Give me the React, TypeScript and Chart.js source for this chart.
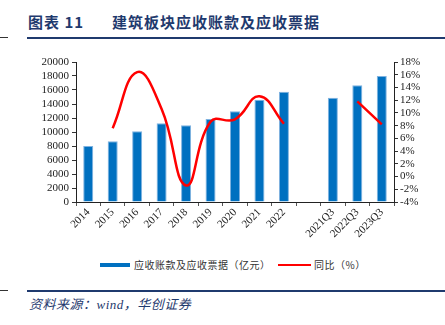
import React, { useEffect, useRef } from "react";
import { Chart, registerables } from "chart.js";

Chart.register(...registerables);

const categories = ["2014", "2015", "2016", "2017", "2018", "2019", "2020", "2021", "2022", "", "2021Q3", "2022Q3", "2023Q3"];
const receivables = [8000, 8670, 10100, 11240, 10960, 11860, 12960, 14620, 15760, null, 14900, 16670, 18000];
const yoy = [null, 7.6, 16.4, 10.6, -1.4, 8.6, 9.0, 12.6, 8.3, null, null, 11.8, 8.2];
const leftTicks = [0, 2000, 4000, 6000, 8000, 10000, 12000, 14000, 16000, 18000, 20000];
const rightTicks = [-4, -2, 0, 2, 4, 6, 8, 10, 12, 14, 16, 18];

const NAVY = "#1F3A6E";

export default function App() {
  const ref = useRef<HTMLCanvasElement>(null);
  useEffect(() => {
    const ctx = ref.current!;
    const tickFont = { family: "'Liberation Serif', 'Times New Roman', serif", size: 11 };
    const chart = new Chart(ctx, {
      data: {
        labels: categories,
        datasets: [
          {
            type: "line",
            label: "同比（%）",
            data: yoy,
            yAxisID: "y1",
            borderColor: "#FF0000",
            backgroundColor: "#FF0000",
            borderWidth: 2.5,
            pointRadius: 0,
            tension: 0.45,
            spanGaps: false,
            order: 0,
          } as any,
          {
            type: "bar",
            label: "应收账款及应收票据（亿元）",
            data: receivables,
            yAxisID: "y",
            backgroundColor: "#0070C0",
            borderColor: "#7FB2E0",
            borderWidth: { top: 1, left: 1, right: 1, bottom: 0 },
            barPercentage: 0.41,
            categoryPercentage: 1,
            order: 1,
          } as any,
        ],
      },
      options: {
        animation: false,
        responsive: false,
        maintainAspectRatio: false,
        layout: { padding: { top: 12, left: 0, right: 0, bottom: 0 } },
        plugins: { legend: { display: false }, tooltip: { enabled: false } },
        scales: {
          x: {
            offset: true,
            grid: { display: true, drawOnChartArea: false, drawTicks: true, tickLength: 4, offset: true, color: "#555" },
            border: { display: true, color: "#222", width: 1 },
            ticks: { color: "#222", font: tickFont, maxRotation: 45, minRotation: 45, autoSkip: false, padding: 0 },
            afterFit: (s: any) => { s.height = 48; },
          },
          y: {
            position: "left",
            min: 0,
            max: 20000,
            afterBuildTicks: (s: any) => { s.ticks = leftTicks.map((v) => ({ value: v })); },
            grid: { display: true, drawOnChartArea: false, drawTicks: true, tickLength: 4, color: "#333" },
            border: { display: true, color: "#222", width: 1 },
            ticks: { color: "#222", font: tickFont, padding: 3, autoSkip: false, callback: (v: any) => String(v) },
            afterFit: (s: any) => { s.width = 76; },
          },
          y1: {
            position: "right",
            min: -4,
            max: 18,
            afterBuildTicks: (s: any) => { s.ticks = rightTicks.map((v) => ({ value: v })); },
            grid: { display: true, drawOnChartArea: false, drawTicks: true, tickLength: 4, color: "#333" },
            border: { display: true, color: "#222", width: 1 },
            ticks: { color: "#222", font: tickFont, padding: 2, autoSkip: false, callback: (v: any) => v + "%" },
            afterFit: (s: any) => { s.width = 51; },
          },
        },
      },
    });
    return () => chart.destroy();
  }, []);

  const cjk = "'Noto Sans CJK SC', 'Noto Sans', sans-serif";
  return (
    <div style={{ position: "fixed", left: 0, top: 0, width: 445, height: 325, background: "#fff", overflow: "hidden" }}>
      <div style={{ position: "absolute", left: 28, top: 12, fontFamily: cjk, fontWeight: 700, fontSize: 15, color: NAVY, letterSpacing: 1, whiteSpace: "nowrap", lineHeight: "20px" }}>
        图表 11<span style={{ display: "inline-block", width: 28 }} />建筑板块应收账款及应收票据
      </div>
      <div style={{ position: "absolute", left: 0, top: 37, width: 8, height: 1, background: "#333" }} />
      <div style={{ position: "absolute", left: 27, top: 37, width: 418, height: 2, background: NAVY }} />
      <canvas ref={ref} width={445} height={200} style={{ position: "absolute", left: 0, top: 50, width: 445, height: 200 }} />
      <div style={{ position: "absolute", left: 100, top: 263, width: 30, height: 4, background: "#0070C0" }} />
      <div style={{ position: "absolute", left: 134, top: 257, fontFamily: cjk, fontSize: 10, color: "#333", whiteSpace: "nowrap", lineHeight: "16px", letterSpacing: 0.5 }}>
        应收账款及应收票据（亿元）
      </div>
      <div style={{ position: "absolute", left: 278, top: 264, width: 33, height: 2, background: "#FF0000" }} />
      <div style={{ position: "absolute", left: 314, top: 257, fontFamily: cjk, fontSize: 10, color: "#333", whiteSpace: "nowrap", lineHeight: "16px", letterSpacing: 0.5 }}>
        同比（%）
      </div>
      <div style={{ position: "absolute", left: 0, top: 290, width: 8, height: 1, background: "#333" }} />
      <div style={{ position: "absolute", left: 27, top: 290, width: 418, height: 2, background: NAVY }} />
      <div style={{ position: "absolute", left: 29, top: 296, fontFamily: "'Liberation Serif', " + cjk, fontStyle: "italic", fontSize: 13, color: NAVY, whiteSpace: "nowrap", lineHeight: "18px", letterSpacing: 0.5 }}>
        资料来源：wind，华创证券
      </div>
    </div>
  );
}
